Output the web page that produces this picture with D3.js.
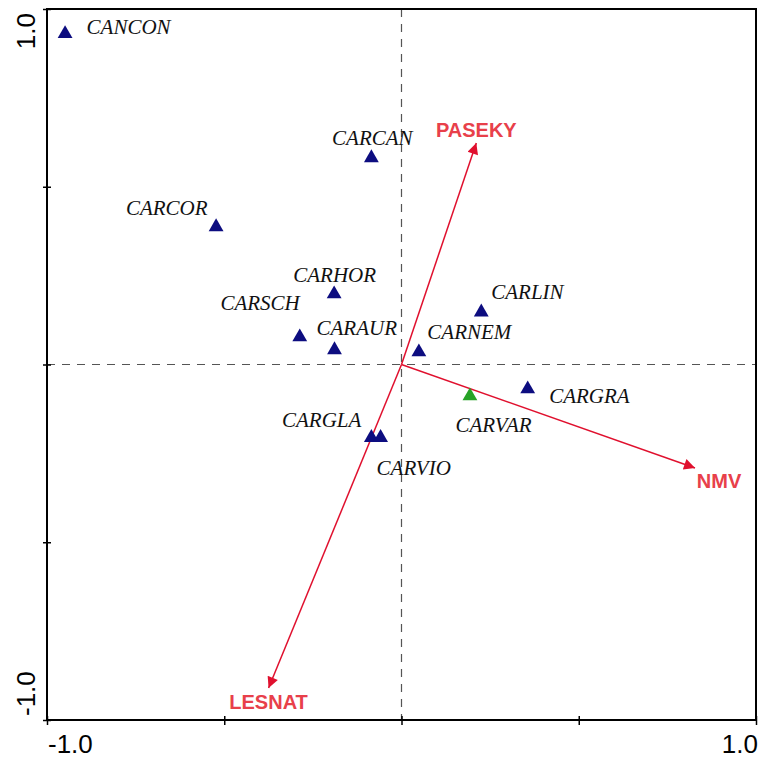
<!DOCTYPE html>
<html>
<head>
<meta charset="utf-8">
<script src="https://cdn.jsdelivr.net/npm/d3@7"></script>
<style>
  html, body { margin: 0; padding: 0; background: #fff; }
  svg { display: block; }
</style>
</head>
<body>
<svg id="chart" width="760" height="758"></svg>
<script>
// Species scores (ordination axes 1 and 2)
const species = ["CANCON", "CARCAN", "CARCOR", "CARHOR", "CARSCH", "CARAUR",
                 "CARNEM", "CARLIN", "CARGRA", "CARVAR", "CARGLA", "CARVIO"];
const speciesX = [-0.949, -0.085, -0.523, -0.190, -0.287, -0.189,
                   0.049,  0.225,  0.356,  0.193, -0.085, -0.059];
const speciesY = [ 0.933,  0.584,  0.390,  0.201,  0.080,  0.044,
                   0.038,  0.150, -0.066, -0.086, -0.203, -0.203];
const speciesGroup = ["a", "a", "a", "a", "a", "a", "a", "a", "a", "b", "a", "a"];

// Environmental variables (arrow tips)
const envVars = ["PASEKY", "NMV", "LESNAT"];
const envX = [0.211, 0.828, -0.375];
const envY = [0.623, -0.291, -0.910];

// Axis ticks
const tickValues = [-1, -0.5, 0, 0.5, 1];
const labelValues = [-1, 1];
const labelTexts = ["-1.0", "1.0"];

// Label placement relative to each marker (pixels)
const speciesLabelPos = {
  CANCON: [21.5, 1, "start"],
  CARCAN: [1, -12, "middle"],
  CARCOR: [-8.5, -11, "end"],
  CARHOR: [0.5, -11, "middle"],
  CARSCH: [0, -26, "end"],
  CARAUR: [-18, -14, "start"],
  CARNEM: [8.5, -12, "start"],
  CARLIN: [10, -12, "start"],
  CARGRA: [21.5, 15, "start"],
  CARVAR: [-14.5, 37, "start"],
  CARGLA: [-10, -9.5, "end"],
  CARVIO: [-4, 38.5, "start"]
};
const envLabelPos = {
  PASEKY: [0, -6, "middle"],
  NMV: [24, 20, "middle"],
  LESNAT: [0, 21, "middle"]
};
const groupColor = { a: "#0d0d80", b: "#27a327" };

const svg = d3.select("#chart");
const x = d3.scaleLinear().domain([-1, 1]).range([47, 756]);
const y = d3.scaleLinear().domain([-1, 1]).range([720, 9]);

// Zero reference lines
svg.append("line")
  .attr("x1", x(0)).attr("x2", x(0)).attr("y1", y(1)).attr("y2", y(-1))
  .attr("stroke", "#555").attr("stroke-width", 1.2).attr("stroke-dasharray", "8,7");
svg.append("line")
  .attr("x1", x(-1)).attr("x2", x(1)).attr("y1", y(0)).attr("y2", y(0))
  .attr("stroke", "#555").attr("stroke-width", 1.2).attr("stroke-dasharray", "8,7");

// Frame
svg.append("rect")
  .attr("x", x(-1)).attr("y", y(1))
  .attr("width", x(1) - x(-1)).attr("height", y(-1) - y(1))
  .attr("fill", "none").attr("stroke", "#000").attr("stroke-width", 2);

// Ticks crossing the bottom and left edges
const xAxis = svg.append("g")
  .attr("transform", `translate(0,${y(-1)})`)
  .call(d3.axisBottom(x).tickValues(tickValues).tickSize(5).tickFormat(""));
xAxis.select(".domain").remove();
xAxis.selectAll(".tick line").attr("y1", -4).attr("y2", 5).attr("stroke", "#000").attr("stroke-width", 1.5);

const yAxis = svg.append("g")
  .attr("transform", `translate(${x(-1)},0)`)
  .call(d3.axisLeft(y).tickValues(tickValues).tickSize(5).tickFormat(""));
yAxis.select(".domain").remove();
yAxis.selectAll(".tick line").attr("x1", 4).attr("x2", -4).attr("stroke", "#000").attr("stroke-width", 1.5);

// Axis end labels
const axisFont = "'Liberation Sans', Arial, sans-serif";
labelValues.forEach((v, i) => {
  svg.append("text")
    .attr("x", v < 0 ? x(v) + 1 : x(v) + 2)
    .attr("y", 753)
    .attr("text-anchor", v < 0 ? "start" : "end")
    .attr("font-family", axisFont).attr("font-size", 26)
    .text(labelTexts[i]);
  svg.append("text")
    .attr("transform", `translate(35,${v < 0 ? y(v) - 4 : y(v) + 4}) rotate(-90)`)
    .attr("text-anchor", v < 0 ? "start" : "end")
    .attr("font-family", axisFont).attr("font-size", 26)
    .text(labelTexts[i]);
});

// Arrow marker
svg.append("defs").append("marker")
  .attr("id", "arrowhead")
  .attr("viewBox", "0 0 10 10")
  .attr("refX", 10).attr("refY", 5)
  .attr("markerUnits", "userSpaceOnUse")
  .attr("markerWidth", 15).attr("markerHeight", 11)
  .attr("orient", "auto")
  .append("path").attr("d", "M0,0 L10,5 L0,10 Z").attr("fill", "#e0102e");

// Environmental arrows
envVars.forEach((name, i) => {
  svg.append("line")
    .attr("x1", x(0)).attr("y1", y(0))
    .attr("x2", x(envX[i])).attr("y2", y(envY[i]))
    .attr("stroke", "#e0102e").attr("stroke-width", 1.5)
    .attr("marker-end", "url(#arrowhead)");
  const p = envLabelPos[name];
  svg.append("text")
    .attr("x", x(envX[i]) + p[0]).attr("y", y(envY[i]) + p[1])
    .attr("text-anchor", p[2])
    .attr("font-family", axisFont).attr("font-size", 20).attr("font-weight", "bold")
    .attr("fill", "#e8404a")
    .text(name);
});

// Species markers
const tri = d3.symbol().type(d3.symbolTriangle).size(95);
species.forEach((name, i) => {
  svg.append("path")
    .attr("d", tri())
    .attr("transform", `translate(${x(speciesX[i])},${y(speciesY[i]) + 1})`)
    .attr("fill", groupColor[speciesGroup[i]]);
  const p = speciesLabelPos[name];
  svg.append("text")
    .attr("x", x(speciesX[i]) + p[0]).attr("y", y(speciesY[i]) + p[1])
    .attr("text-anchor", p[2])
    .attr("font-family", "'Liberation Serif', 'Times New Roman', serif")
    .attr("font-style", "italic").attr("font-size", 21)
    .attr("fill", "#111")
    .text(name);
});
</script>
</body>
</html>
